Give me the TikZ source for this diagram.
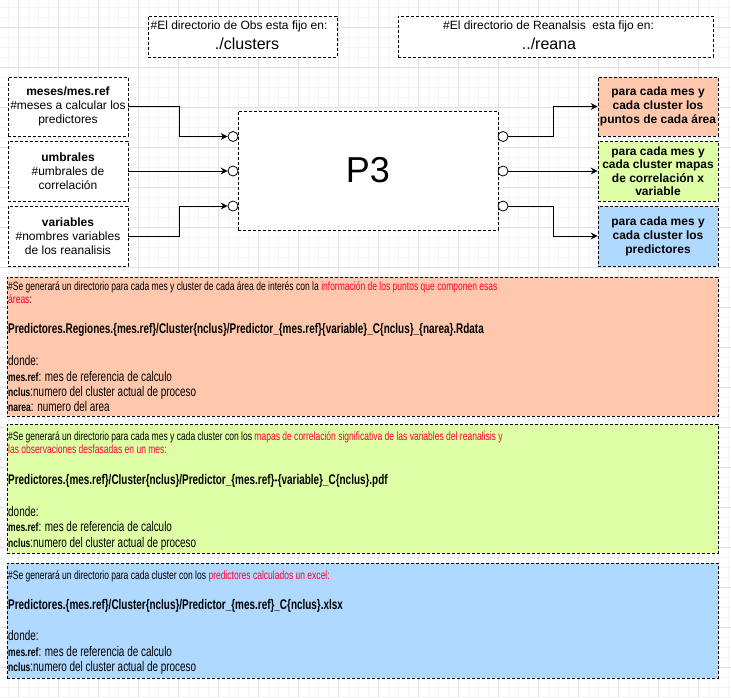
\documentclass[tikz,border=0pt]{standalone}
\usepackage{fontspec}
\setmainfont{Liberation Sans}
\newfontfamily\cf[FakeStretch=0.71]{Liberation Sans}
\usetikzlibrary{arrows.meta}
\definecolor{gmin}{RGB}{244,244,244}
\definecolor{gmaj}{RGB}{226,226,226}
\definecolor{orf}{RGB}{255,200,173}
\definecolor{grf}{RGB}{222,255,166}
\definecolor{blf}{RGB}{176,217,255}
\definecolor{redt}{RGB}{255,0,51}
\tikzset{
 box/.style={draw, dash pattern=on 3pt off 2pt, line width=0.8pt, fill=white, inner sep=0pt, align=center},
 port/.style={circle, draw, fill=white, minimum size=10pt, inner sep=0pt, line width=0.8pt},
 conn/.style={line width=1pt, -{Stealth[length=7pt,width=7pt,inset=2.5pt]}},
 ln/.style={anchor=base west, inner sep=0pt},
 ct/.style={anchor=base, inner sep=0pt},
 sm/.style={font=\fontsize{12}{14}\selectfont},
 hd/.style={ln, font=\cf\fontsize{12}{14}\selectfont},
 pth/.style={ln, font=\cf\bfseries\fontsize{14}{16}\selectfont},
 dn/.style={ln, font=\cf\fontsize{14}{16}\selectfont},
}
\newcommand{\lab}[1]{{\bfseries\fontsize{12}{14}\selectfont #1}}
\begin{document}
\begin{tikzpicture}[x=1pt,y=-1pt]
\useasboundingbox[fill=white] (0,0) rectangle (731,697);
% grid
\foreach \x in {8,18,...,728} \draw[gmin, line width=0.8pt] (\x,0) -- (\x,697);
\foreach \y in {7,17,...,697} \draw[gmin, line width=0.8pt] (0,\y) -- (731,\y);
\foreach \x in {18,58,...,728} \draw[gmaj, line width=0.8pt] (\x,0) -- (\x,697);
\foreach \y in {27,67,...,697} \draw[gmaj, line width=0.8pt] (0,\y) -- (731,\y);

% top boxes
\node[box, minimum width=189pt, minimum height=41pt] (obs) at (242.5,36.5) {};
\node[ct, font=\fontsize{12}{14}\selectfont] (obs1) at (239,29) {\#El directorio de Obs esta fijo en:};
\node[ct, font=\fontsize{16}{18}\selectfont] (obs2) at (247,49) {./clusters};
\node[box, minimum width=315pt, minimum height=41pt] (rea) at (555.5,36.5) {};
\node[ct, font=\fontsize{12}{14}\selectfont] (rea1) at (548.5,29) {\#El directorio de Reanalsis\ \ esta fijo en:};
\node[ct, font=\fontsize{16}{18}\selectfont] (rea2) at (549,49) {../reana};

% left inputs
\node[box, sm, minimum width=120pt, minimum height=59pt] (mes) at (68,106.5) {\textbf{meses/mes.ref}\\\#meses a calcular los\\predictores};
\node[box, sm, minimum width=120pt, minimum height=60pt] (umb) at (68,171) {\textbf{umbrales}\\\#umbrales de\\correlación};
\node[box, sm, minimum width=120pt, minimum height=60pt] (var) at (68,236) {\textbf{variables}\\\#nombres variables\\de los reanalisis};

% P3
\node[box, minimum width=260pt, minimum height=119pt, font=\fontsize{36}{40}\selectfont] (p3) at (368,170.5) {P3};
\node[port] (i1) at (233,136.5) {};
\node[port] (i2) at (233,171) {};
\node[port] (i3) at (233,206) {};
\node[port] (o1) at (503,136.5) {};
\node[port] (o2) at (503,171) {};
\node[port] (o3) at (503,206) {};

% right outputs
\node[box, fill=orf, minimum width=120pt, minimum height=59pt, font=\bfseries\fontsize{12}{14}\selectfont] (r1) at (658,106.5) {para cada mes y\\cada cluster los\\puntos de cada área};
\node[box, fill=grf, minimum width=120pt, minimum height=60pt, font=\bfseries\fontsize{12}{13.5}\selectfont] (r2) at (658,171) {para cada mes y\\cada cluster mapas\\de correlación x\\variable};
\node[box, fill=blf, minimum width=120pt, minimum height=60pt, font=\bfseries\fontsize{12}{14}\selectfont] (r3) at (658,236) {para cada mes y\\cada cluster los\\predictores};

% connectors
\draw[conn] (mes.east) -- ++(51,0) |- (i1.west);
\draw[conn] (umb.east) -- (i2.west);
\draw[conn] (var.east) -- ++(51,0) |- (i3.west);
\draw[conn] (o1.east) -- ++(45,0) |- (r1.west);
\draw[conn] (o2.east) -- (r2.west);
\draw[conn] (o3.east) -- ++(45,0) |- (r3.west);

% bottom box 1
\node[box, fill=orf, minimum width=711pt, minimum height=139pt, anchor=north west] (b1) at (7,277) {};
\node[hd] (b1a) at (8,290) {\#Se generará un directorio para cada mes y cluster de cada área de interés con la \textcolor{redt}{información de los puntos que componen esas}};
\node[hd] (b1b) at (8,303) {\textcolor{redt}{áreas}:};
\node[pth] (b1c) at (8,333) {Predictores.Regiones.\{mes.ref\}/Cluster\{nclus\}/Predictor\_\{mes.ref\}\{variable\}\_C\{nclus\}\_\{narea\}.Rdata};
\node[dn] (b1d) at (8,365) {donde:};
\node[dn] (b1e) at (8,381) {\lab{mes.ref}: mes de referencia de calculo};
\node[dn] (b1f) at (8,396) {\lab{nclus}:numero del cluster actual de proceso};
\node[dn] (b1g) at (8,411.5) {\lab{narea}: numero del area};

% bottom box 2
\node[box, fill=grf, minimum width=711pt, minimum height=129pt, anchor=north west] (b2) at (7,424) {};
\node[hd] (b2a) at (8,440) {\#Se generará un directorio para cada mes y cada cluster con los \textcolor{redt}{mapas de correlación significativa de las variables del reanalisis y}};
\node[hd] (b2b) at (8,453) {\textcolor{redt}{las observaciones desfasadas en un mes:}};
\node[pth] (b2c) at (8,484) {Predictores.\{mes.ref\}/Cluster\{nclus\}/Predictor\_\{mes.ref\}-\{variable\}\_C\{nclus\}.pdf};
\node[dn] (b2d) at (8,516) {donde:};
\node[dn] (b2e) at (8,531.5) {\lab{mes.ref}: mes de referencia de calculo};
\node[dn] (b2f) at (8,547.5) {\lab{nclus}:numero del cluster actual de proceso};

% bottom box 3
\node[box, fill=blf, minimum width=711pt, minimum height=115pt, anchor=north west] (b3) at (7,563) {};
\node[hd] (b3a) at (8,579) {\#Se generará un directorio para cada cluster con los \textcolor{redt}{predictores calculados un excel:}};
\node[pth] (b3c) at (8,609) {Predictores.\{mes.ref\}/Cluster\{nclus\}/Predictor\_\{mes.ref\}\_C\{nclus\}.xlsx};
\node[dn] (b3d) at (8,640) {donde:};
\node[dn] (b3e) at (8,656.5) {\lab{mes.ref}: mes de referencia de calculo};
\node[dn] (b3f) at (8,671.5) {\lab{nclus}:numero del cluster actual de proceso};
\end{tikzpicture}
\end{document}
